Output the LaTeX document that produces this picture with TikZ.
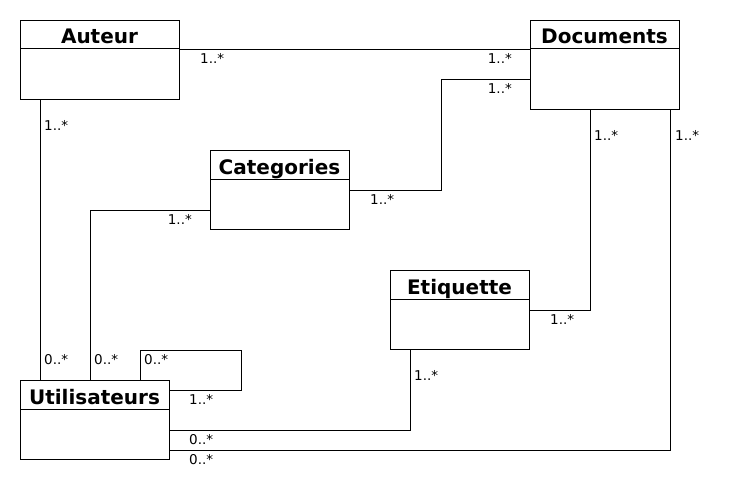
\documentclass[tikz,border=0pt]{standalone}
\usepackage{fontspec}
\setmainfont{DejaVu Sans}
\begin{document}
\begin{tikzpicture}[x=1pt,y=-1pt,
  cls/.style={draw, line width=1pt, rectangle, anchor=north west, inner sep=0pt},
  ttl/.style={anchor=base, inner sep=0pt, font=\bfseries\fontsize{20}{20}\selectfont},
  conn/.style={line width=1pt},
  mult/.style={inner sep=0pt, font=\fontsize{13.5}{14}\selectfont}]
\useasboundingbox (0,0) rectangle (730,500);
\fill[white] (0,0) rectangle (730,500);
% classes
\node[cls, minimum width=159pt, minimum height=79pt] (auteur) at (20,20) {};
\draw[conn] ([yshift=-29pt]auteur.north west) -- ([yshift=-29pt]auteur.north east);
\node[ttl] (auteurT) at (99.5,44) {Auteur};

\node[cls, minimum width=149pt, minimum height=89pt] (documents) at (530,20) {};
\draw[conn] ([yshift=-29pt]documents.north west) -- ([yshift=-29pt]documents.north east);
\node[ttl] (documentsT) at (604.5,44) {Documents};

\node[cls, minimum width=139pt, minimum height=79pt] (categories) at (210,150) {};
\draw[conn] ([yshift=-29pt]categories.north west) -- ([yshift=-29pt]categories.north east);
\node[ttl] (categoriesT) at (279.5,174) {Categories};

\node[cls, minimum width=139pt, minimum height=79pt] (etiquette) at (390,270) {};
\draw[conn] ([yshift=-29pt]etiquette.north west) -- ([yshift=-29pt]etiquette.north east);
\node[ttl] (etiquetteT) at (459.5,294) {Etiquette};

\node[cls, minimum width=149pt, minimum height=79pt] (util) at (20,380) {};
\draw[conn] ([yshift=-29pt]util.north west) -- ([yshift=-29pt]util.north east);
\node[ttl] (utilT) at (94.5,404) {Utilisateurs};

% connectors
\draw[conn] ([yshift=-30pt]auteur.north east) -- ([yshift=-30pt]documents.north west);
\draw[conn] ([yshift=-60pt]documents.north west) -| ([xshift=91pt,yshift=-40pt]categories.north east) -- ([yshift=-40pt]categories.north east);
\draw[conn] ([xshift=60pt]documents.south west) |- ([yshift=-40pt]etiquette.north east);
\draw[conn] ([xshift=140pt]documents.south west) |- ([yshift=-70pt]util.north east);
\draw[conn] ([xshift=20pt]auteur.south west) -- ([xshift=20pt]util.north west);
\draw[conn] ([yshift=-60pt]categories.north west) -| ([xshift=70pt]util.north west);
\draw[conn] ([xshift=120pt]util.north west) |- ([xshift=71pt,yshift=30pt]util.north east) |- ([yshift=-10pt]util.north east);
\draw[conn] ([xshift=20pt]etiquette.south west) |- ([yshift=-50pt]util.north east);

% multiplicities
\node[mult, anchor=base west] (m1) at (200,64) {1..*};
\node[mult, anchor=base east] (m2) at (512,64) {1..*};
\node[mult, anchor=base east] (m3) at (512,94) {1..*};
\node[mult, anchor=base west] (m4) at (370,204) {1..*};
\node[mult, anchor=base west] (m5) at (44,130) {1..*};
\node[mult, anchor=base west] (m6) at (44,364) {0..*};
\node[mult, anchor=base east] (m7) at (192,224) {1..*};
\node[mult, anchor=base west] (m8) at (94,364) {0..*};
\node[mult, anchor=base west] (m9) at (144,364) {0..*};
\node[mult, anchor=base west] (m10) at (189,404) {1..*};
\node[mult, anchor=base west] (m11) at (189,444) {0..*};
\node[mult, anchor=base west] (m12) at (189,464) {0..*};
\node[mult, anchor=base west] (m13) at (594,140) {1..*};
\node[mult, anchor=base west] (m14) at (675,140) {1..*};
\node[mult, anchor=base west] (m15) at (550,324) {1..*};
\node[mult, anchor=base west] (m16) at (414,380) {1..*};
\end{tikzpicture}
\end{document}
